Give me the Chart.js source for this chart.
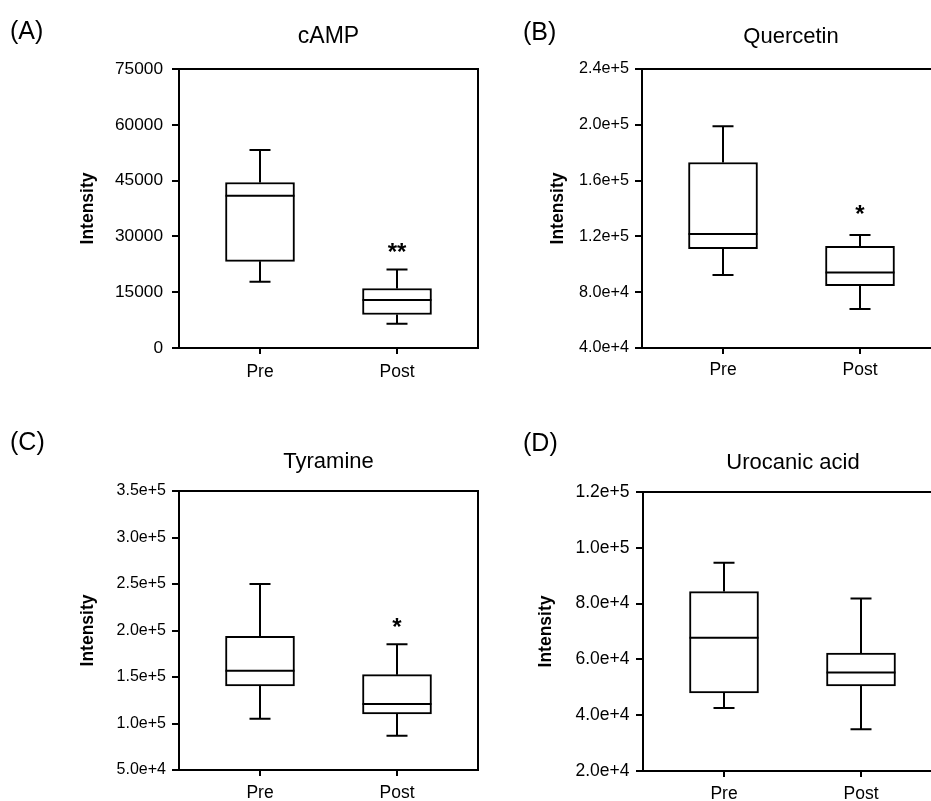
<!DOCTYPE html>
<html>
<head>
<meta charset="utf-8">
<script src="https://cdn.jsdelivr.net/npm/chart.js@4.4.1/dist/chart.umd.min.js"></script>
<style>
  html, body { margin: 0; padding: 0; background: #fff; overflow: hidden; width: 931px; height: 801px; }
  #wrap { position: relative; width: 931px; height: 801px; background: #fff; }
  canvas { position: absolute; }
  .tag { position: absolute; font: 25px "Liberation Sans", Arial, sans-serif; line-height: 25px; color: #000; }
</style>
</head>
<body>
<div id="wrap">
  <canvas id="chartA" width="500" height="400" style="left:0;top:0;width:500px;height:400px"></canvas>
  <canvas id="chartB" width="652" height="400" style="left:465px;top:0;width:652px;height:400px"></canvas>
  <canvas id="chartC" width="500" height="401" style="left:0;top:400px;width:500px;height:401px"></canvas>
  <canvas id="chartD" width="656" height="401" style="left:465px;top:400px;width:656px;height:401px"></canvas>
  <div class="tag" style="left:10px;top:18px">(A)</div>
  <div class="tag" style="left:523px;top:19px">(B)</div>
  <div class="tag" style="left:10px;top:429px">(C)</div>
  <div class="tag" style="left:523px;top:430px">(D)</div>
</div>
<script>
// groups on the x axis
const categories = ['Pre', 'Post'];

// each box: [min, Q1, median, Q3, max]
const campPre = [17800, 23300, 40900, 44500, 53200];
const campPost = [6500, 9000, 12900, 16000, 21100];
const quercetinPre = [92300, 111200, 121700, 173000, 198900];
const quercetinPost = [68000, 84700, 94200, 112800, 121000];
const tyraminePre = [105200, 140300, 156800, 193800, 250000];
const tyraminePost = [86900, 110200, 121000, 152500, 185200];
const urocanicPre = [42600, 48000, 67800, 84300, 94600];
const urocanicPost = [35000, 50500, 55300, 62300, 81800];

// y axis ticks
const campTicks = [0, 15000, 30000, 45000, 60000, 75000];
const quercetinTicks = [40000, 80000, 120000, 160000, 200000, 240000];
const tyramineTicks = [50000, 100000, 150000, 200000, 250000, 300000, 350000];
const urocanicTicks = [20000, 40000, 60000, 80000, 100000, 120000];

// significance marks
const campStars = ['', '**'];
const quercetinStars = ['', '*'];
const tyramineStars = ['', '*'];
const urocanicStars = ['', ''];

Chart.defaults.font.family = '"Liberation Sans", Arial, sans-serif';
Chart.defaults.color = '#000';

// whiskers, median, frame and stars
const boxPlugin = {
  id: 'boxWhiskers',
  afterDatasetsDraw(chart, args, opts) {
    const { ctx, chartArea: a, scales: { x, y } } = chart;
    const bars = chart.getDatasetMeta(0).data;
    ctx.save();
    ctx.strokeStyle = '#000';
    ctx.lineWidth = 2;
    ctx.strokeRect(a.left, a.top, a.right - a.left, a.bottom - a.top);
    opts.boxes.forEach((b, i) => {
      const cx = x.getPixelForValue(i);
      const half = bars[i].width / 2;
      const [mn, q1, md, q3, mx] = b.map(v => y.getPixelForValue(v));
      ctx.beginPath();
      ctx.moveTo(cx, q3); ctx.lineTo(cx, mx);
      ctx.moveTo(cx, q1); ctx.lineTo(cx, mn);
      ctx.moveTo(cx - 10.5, mx); ctx.lineTo(cx + 10.5, mx);
      ctx.moveTo(cx - 10.5, mn); ctx.lineTo(cx + 10.5, mn);
      ctx.moveTo(cx - half, md); ctx.lineTo(cx + half, md);
      ctx.stroke();
      if (opts.stars[i]) {
        ctx.fillStyle = '#000';
        ctx.font = 'bold 24px "Liberation Sans", Arial, sans-serif';
        ctx.textAlign = 'center';
        ctx.textBaseline = 'alphabetic';
        ctx.fillText(opts.stars[i], cx, mx - opts.starGap + 13);
      }
    });
    ctx.restore();
  }
};

function panel(id, o) {
  const span = o.plotWidth / 137;
  return new Chart(document.getElementById(id), {
    type: 'bar',
    data: {
      datasets: [{
        data: o.boxes.map((b, i) => ({ x: i, y: [b[1], b[3]] })),
        backgroundColor: '#fff',
        borderColor: '#000',
        borderWidth: 2,
        borderSkipped: false,
        barThickness: 69
      }]
    },
    options: {
      responsive: false,
      animation: false,
      events: [],
      layout: { padding: { left: 0, right: o.right, top: 0, bottom: 0 } },
      plugins: {
        legend: { display: false },
        tooltip: { enabled: false },
        title: {
          display: true, text: o.title, fullSize: o.titleFull, color: '#000',
          font: { size: o.titleSize, weight: 'normal' },
          padding: { top: o.titleTop, bottom: o.titleBottom }
        },
        boxWhiskers: { boxes: o.boxes, stars: o.stars, starGap: o.starGap }
      },
      scales: {
        x: {
          type: 'linear', offset: false,
          // Pre sits 81px right of the frame, groups 137px apart
          min: -81 / 137, max: -81 / 137 + span,
          afterBuildTicks: s => { s.ticks = categories.map((c, i) => ({ value: i })); },
          afterFit: s => { s.height = o.xHeight; },
          ticks: { callback: v => categories[v], color: '#000', font: { size: 17.5 }, padding: o.xPad, autoSkip: false, maxRotation: 0 },
          grid: { drawOnChartArea: false, drawTicks: true, tickLength: 6, color: '#000', lineWidth: 2, offset: false },
          border: { display: true, color: '#000', width: 2 }
        },
        y: {
          min: o.ticks[0], max: o.ticks[o.ticks.length - 1],
          afterBuildTicks: s => { s.ticks = o.ticks.map(v => ({ value: v })); },
          afterFit: s => { s.width = o.left; },
          ticks: { callback: o.fmt, color: '#000', font: { size: o.tickSize }, padding: o.yPad, autoSkip: false },
          grid: { drawOnChartArea: false, drawTicks: true, tickLength: 7, color: '#000', lineWidth: 2 },
          border: { display: true, color: '#000', width: 2 },
          title: {
            display: true, text: 'Intensity', color: '#000',
            font: { size: 17.5, weight: 'bold' },
            padding: { top: o.labelPad, bottom: 0 }
          }
        }
      }
    },
    plugins: [boxPlugin]
  });
}

const plain = v => String(v);
const expo = v => Number(v).toExponential(1);

panel('chartA', {
  title: 'cAMP', titleSize: 23, titleTop: 23, titleBottom: 18.4, titleFull: false,
  boxes: [campPre, campPost], stars: campStars, starGap: 22.5, ticks: campTicks, fmt: plain,
  left: 179, right: 22, plotWidth: 299, xHeight: 52, tickSize: 17.3, yPad: 9, xPad: 7.5, labelPad: 77.5
});
panel('chartB', {
  title: 'Quercetin', titleSize: 22, titleTop: 23.5, titleBottom: 19.1, titleFull: true,
  boxes: [quercetinPre, quercetinPost], stars: quercetinStars, starGap: 26, ticks: quercetinTicks, fmt: expo,
  left: 177, right: 0, plotWidth: 475, xHeight: 52, tickSize: 16.2, yPad: 6, xPad: 5.5, labelPad: 82.3
});
panel('chartC', {
  title: 'Tyramine', titleSize: 22, titleTop: 48.5, titleBottom: 16.1, titleFull: false,
  boxes: [tyraminePre, tyraminePost], stars: tyramineStars, starGap: 22.5, ticks: tyramineTicks, fmt: expo,
  left: 179, right: 22, plotWidth: 299, xHeight: 31, tickSize: 16, yPad: 6, xPad: 6.5, labelPad: 77.5
});
panel('chartD', {
  title: 'Urocanic acid', titleSize: 22, titleTop: 50.1, titleBottom: 15.5, titleFull: true,
  boxes: [urocanicPre, urocanicPost], stars: urocanicStars, starGap: 22.5, ticks: urocanicTicks, fmt: expo,
  left: 178, right: 0, plotWidth: 478, xHeight: 30, tickSize: 17.5, yPad: 6.5, xPad: 7, labelPad: 70.8
});
</script>
</body>
</html>
